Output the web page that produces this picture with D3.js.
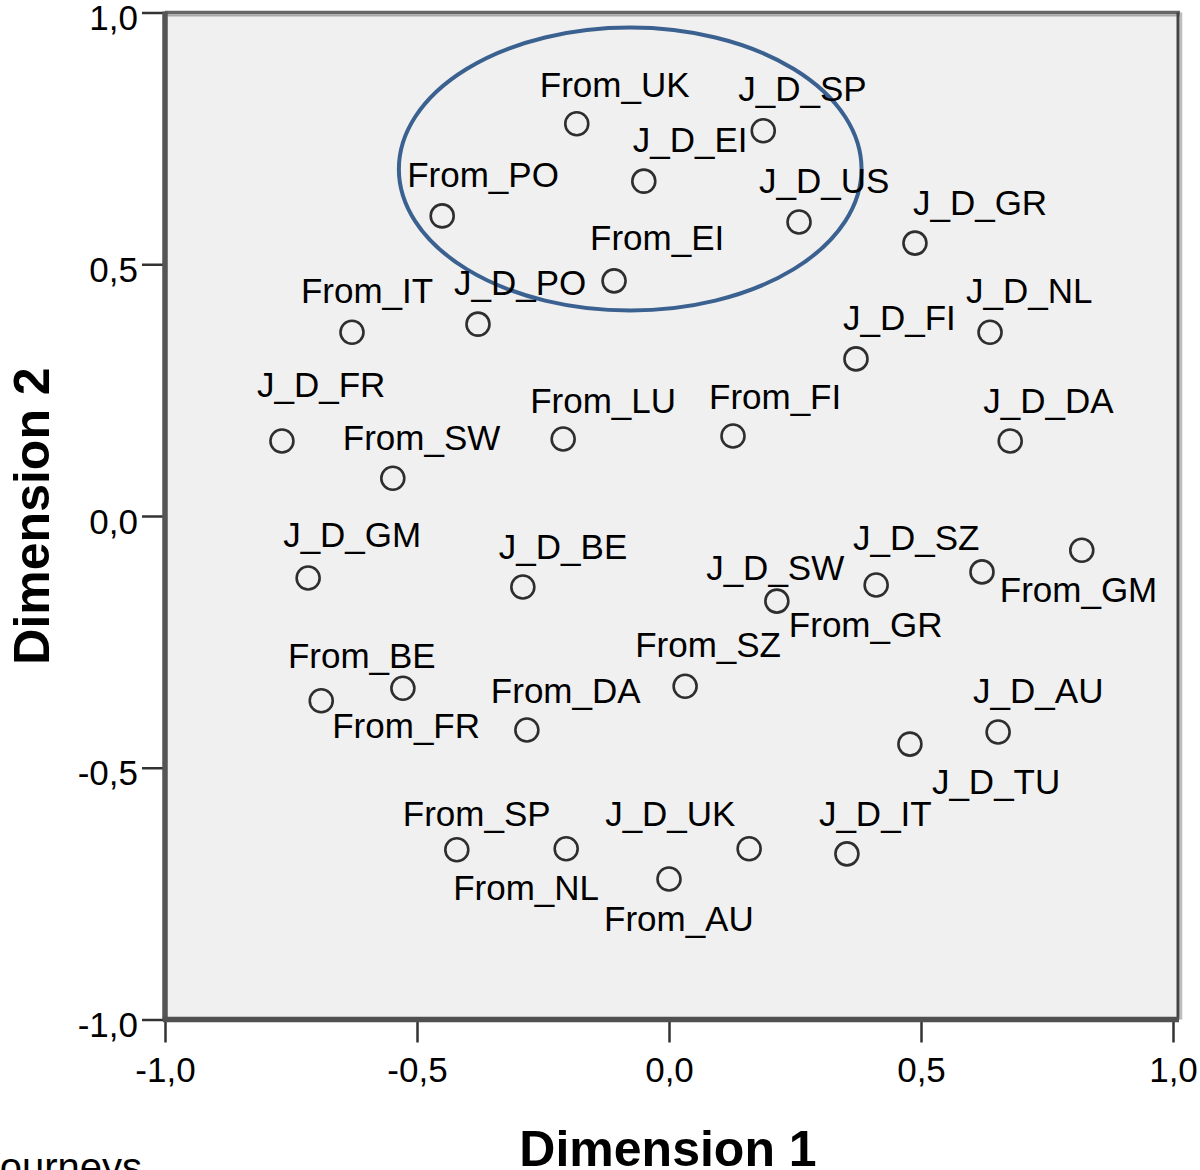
<!DOCTYPE html>
<html>
<head>
<meta charset="utf-8">
<script src="https://cdn.jsdelivr.net/npm/d3@7"></script>
<style>
  html, body { margin: 0; padding: 0; background: #ffffff; overflow: hidden; }
  svg { display: block; }
  text { font-family: "Liberation Sans", Arial, sans-serif; }
</style>
</head>
<body>
<svg id="chart" width="1200" height="1170"></svg>
<script>
// Category points of the correspondence map (origin country / journey destination)
const labels = [
  "From_UK", "J_D_EI", "J_D_SP", "From_PO", "J_D_US", "From_EI", "J_D_PO",
  "J_D_GR", "J_D_NL", "J_D_FI", "J_D_DA", "From_IT", "J_D_FR", "From_LU",
  "From_FI", "From_SW", "J_D_GM", "J_D_BE", "From_GR", "J_D_SW", "J_D_SZ",
  "From_GM", "From_FR", "From_BE", "From_DA", "From_SZ", "J_D_TU", "J_D_AU",
  "From_SP", "From_NL", "J_D_UK", "From_AU", "J_D_IT"
];
const dim1 = [
  -0.183, -0.050, 0.187, -0.450, 0.258, -0.109, -0.379,
  0.488, 0.637, 0.371, 0.677, -0.629, -0.768, -0.210,
  0.127, -0.548, -0.716, -0.290, 0.214, 0.411, 0.621,
  0.819, -0.690, -0.528, -0.282, 0.032, 0.478, 0.653,
  -0.421, -0.204, 0.159, 0.000, 0.353
];
const dim2 = [
  0.779, 0.665, 0.765, 0.596, 0.584, 0.467, 0.381,
  0.542, 0.365, 0.312, 0.149, 0.365, 0.149, 0.153,
  0.159, 0.075, -0.123, -0.141, -0.169, -0.137, -0.111,
  -0.068, -0.367, -0.342, -0.425, -0.338, -0.453, -0.429,
  -0.663, -0.661, -0.661, -0.721, -0.671
];
const tickValues = [-1.0, -0.5, 0.0, 0.5, 1.0];

// Highlighted cluster, in dimension units: centre, semi-axes
const clusterEllipse = { cx: -0.077, cy: 0.689, rx: 0.459, ry: 0.281 };

// Label placement (pixel offset of the label's left/baseline from its point)
const labelOffset = [
  [-37, -27], [-11, -29], [-25, -30], [-35, -29], [-40, -29], [-24, -31], [-24, -29],
  [-2, -28], [-24, -29], [-13, -29], [-27, -28], [-51, -29], [-25, -44], [-33, -26],
  [-24, -27], [-50, -28], [-25, -31], [-24, -28], [12, 36], [-170, -5], [-129, -22],
  [-82, 52], [11, 37], [-115, -20], [-36, -27], [-50, -29], [22, 50], [-25, -29],
  [-54, -24], [-113, 51], [-144, -23], [-65, 52], [-28, -28]
];

const points = labels.map((name, i) => ({
  name, x: dim1[i], y: dim2[i], off: labelOffset[i]
}));

const svg = d3.select("#chart");
const x = d3.scaleLinear().domain([-1, 1]).range([165, 1173]);
const y = d3.scaleLinear().domain([-1, 1]).range([1019.5, 12.5]);

const fmt = d => (d < 0 ? "-" : "") + Math.abs(d).toFixed(1).replace(".", ",");

const plotLeft = x(-1), plotRight = 1178, plotTop = y(1), plotBottom = y(-1);

// Plot area background
svg.append("rect")
  .attr("x", plotLeft).attr("y", plotTop)
  .attr("width", plotRight - plotLeft).attr("height", plotBottom - plotTop)
  .attr("fill", "#f0f0f0");

// Frame: top and right edges with a soft shadow line
svg.append("line").attr("x1", plotLeft).attr("x2", plotRight + 2).attr("y1", plotTop + 3).attr("y2", plotTop + 3)
  .attr("stroke", "#a8a8a8").attr("stroke-width", 2);
svg.append("line").attr("x1", plotLeft).attr("x2", plotRight + 2).attr("y1", plotTop).attr("y2", plotTop)
  .attr("stroke", "#666").attr("stroke-width", 3.5);
svg.append("line").attr("x1", plotRight + 3).attr("x2", plotRight + 3).attr("y1", plotTop).attr("y2", plotBottom)
  .attr("stroke", "#bdbdbd").attr("stroke-width", 2.5);
svg.append("line").attr("x1", plotRight).attr("x2", plotRight).attr("y1", plotTop).attr("y2", plotBottom)
  .attr("stroke", "#444").attr("stroke-width", 3);

// Axes
const yAxis = d3.axisLeft(y).tickValues(tickValues).tickFormat(fmt).tickSize(23).tickPadding(4);
const xAxis = d3.axisBottom(x).tickValues(tickValues).tickFormat(fmt).tickSize(23).tickPadding(4);

const gy = svg.append("g").attr("transform", `translate(${plotLeft},0)`).call(yAxis);
const gx = svg.append("g").attr("transform", `translate(0,${plotBottom})`).call(xAxis);

[gx, gy].forEach(g => {
  g.select(".domain").remove();
  g.selectAll(".tick line").attr("stroke", "#333").attr("stroke-width", 2.5);
  g.selectAll(".tick text")
    .attr("fill", "#000")
    .style("font-size", "35px")
    .style("font-family", "\"Liberation Sans\", Arial, sans-serif");
});
gy.selectAll(".tick text").attr("dy", null).attr("y", 17);
gx.selectAll(".tick text").attr("dy", null).attr("y", 62);

// Axis lines drawn over the frame
svg.append("line").attr("x1", plotLeft).attr("x2", plotLeft).attr("y1", plotTop - 1).attr("y2", plotBottom)
  .attr("stroke", "#555").attr("stroke-width", 5.5);
svg.append("line").attr("x1", plotLeft - 2).attr("x2", plotRight + 1).attr("y1", plotBottom).attr("y2", plotBottom)
  .attr("stroke", "#505050").attr("stroke-width", 5.5);

// Cluster ellipse
svg.append("ellipse")
  .attr("cx", x(clusterEllipse.cx))
  .attr("cy", y(clusterEllipse.cy))
  .attr("rx", x(clusterEllipse.rx) - x(0))
  .attr("ry", y(0) - y(clusterEllipse.ry))
  .attr("fill", "none")
  .attr("stroke", "#3b6190")
  .attr("stroke-width", 4);

// Points
const pg = svg.append("g");
pg.selectAll("circle").data(points).join("circle")
  .attr("cx", d => x(d.x))
  .attr("cy", d => y(d.y))
  .attr("r", 11.5)
  .attr("fill", "none")
  .attr("stroke", "#2e2e2e")
  .attr("stroke-width", 2.6);

// Point labels
pg.selectAll("text").data(points).join("text")
  .attr("x", d => x(d.x) + d.off[0])
  .attr("y", d => y(d.y) + d.off[1])
  .attr("fill", "#000")
  .style("font-size", "35px")
  .text(d => d.name);

// Axis titles
svg.append("text")
  .attr("x", 668).attr("y", 1166)
  .attr("text-anchor", "middle")
  .style("font-size", "50px").style("font-weight", "bold")
  .text("Dimension 1");

svg.append("text")
  .attr("transform", "translate(49,516) rotate(-90)")
  .attr("text-anchor", "middle")
  .style("font-size", "50px").style("font-weight", "bold")
  .text("Dimension 2");

// Caption below the chart
svg.append("text")
  .attr("x", 142).attr("y", 1181)
  .attr("text-anchor", "end")
  .style("font-size", "40px")
  .text("Journeys");
</script>
</body>
</html>
